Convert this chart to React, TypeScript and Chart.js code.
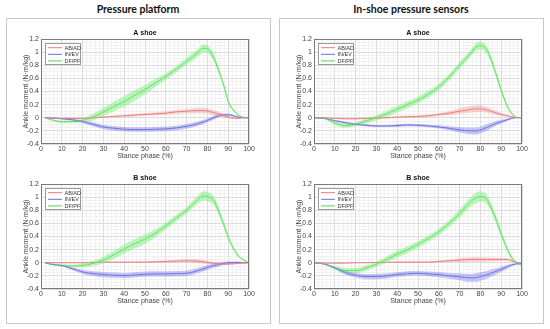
import React, { useEffect, useRef } from 'react';
import { Chart, registerables } from 'chart.js';

Chart.register(...registerables);

// ---------- Data ----------
const X_PP = [2, 5, 10, 15, 20, 25, 30, 35, 40, 45, 50, 55, 60, 65, 70, 75, 78, 80, 83, 85, 88, 90, 93, 95, 97, 100];
const X_IS = [0, 5, 10, 15, 20, 25, 30, 35, 40, 45, 50, 55, 60, 65, 70, 75, 78, 80, 83, 85, 88, 90, 93, 95, 97, 100];

const SERIES_LABELS = ['AB/AD', 'IN/EV', 'DF/PF'];
const GROUP_TITLES = ['Pressure platform', 'In-shoe pressure sensors'];
const PANEL_TITLES = ['A shoe', 'B shoe'];

// Pressure platform, A shoe
const PP_A_AB = [0, -0.005, -0.01, -0.01, -0.01, 0, 0.01, 0.02, 0.03, 0.04, 0.05, 0.06, 0.07, 0.09, 0.1, 0.11, 0.11, 0.1, 0.08, 0.06, 0.03, 0.01, -0.01, -0.01, 0, 0];
const PP_A_AB_SD = [0, 0.005, 0.01, 0.01, 0.01, 0.01, 0.01, 0.01, 0.015, 0.02, 0.02, 0.02, 0.025, 0.03, 0.03, 0.04, 0.04, 0.04, 0.04, 0.04, 0.03, 0.02, 0.01, 0.01, 0.005, 0];
const PP_A_IN = [0, -0.005, -0.015, -0.03, -0.06, -0.1, -0.14, -0.16, -0.175, -0.18, -0.18, -0.175, -0.17, -0.155, -0.13, -0.095, -0.065, -0.04, 0, 0.025, 0.045, 0.045, 0.025, 0.01, 0, 0];
const PP_A_IN_SD = [0, 0.005, 0.01, 0.015, 0.02, 0.03, 0.03, 0.035, 0.035, 0.035, 0.035, 0.035, 0.035, 0.035, 0.035, 0.035, 0.035, 0.03, 0.03, 0.025, 0.02, 0.02, 0.015, 0.01, 0.005, 0];
const PP_A_DF = [0, -0.03, -0.06, -0.06, -0.04, 0.01, 0.09, 0.17, 0.25, 0.34, 0.43, 0.53, 0.63, 0.74, 0.86, 0.98, 1.06, 1.05, 0.92, 0.76, 0.48, 0.25, 0.1, 0.04, 0.01, 0];
const PP_A_DF_SD = [0, 0.01, 0.02, 0.02, 0.03, 0.05, 0.06, 0.07, 0.08, 0.08, 0.07, 0.06, 0.05, 0.05, 0.05, 0.06, 0.06, 0.06, 0.06, 0.05, 0.04, 0.03, 0.02, 0.01, 0.01, 0];

// Pressure platform, B shoe
const PP_B_AB = [0, 0, 0, 0, 0, 0.005, 0.01, 0.01, 0.01, 0.01, 0.01, 0.015, 0.02, 0.025, 0.03, 0.025, 0.015, 0.005, -0.01, -0.015, -0.02, -0.02, -0.015, -0.01, -0.005, 0];
const PP_B_AB_SD = [0, 0.005, 0.005, 0.005, 0.005, 0.005, 0.005, 0.005, 0.005, 0.01, 0.01, 0.01, 0.015, 0.02, 0.025, 0.03, 0.03, 0.025, 0.02, 0.02, 0.015, 0.01, 0.01, 0.005, 0.005, 0];
const PP_B_IN = [0, -0.025, -0.045, -0.09, -0.14, -0.165, -0.18, -0.19, -0.195, -0.185, -0.175, -0.17, -0.17, -0.165, -0.16, -0.125, -0.095, -0.07, -0.045, -0.03, -0.01, 0, 0.005, 0.005, 0, 0];
const PP_B_IN_SD = [0, 0.005, 0.01, 0.02, 0.03, 0.035, 0.04, 0.04, 0.04, 0.04, 0.04, 0.04, 0.04, 0.04, 0.04, 0.04, 0.04, 0.035, 0.03, 0.03, 0.025, 0.02, 0.015, 0.01, 0.005, 0];
const PP_B_DF = [0, -0.02, -0.04, -0.05, -0.04, -0.01, 0.04, 0.12, 0.21, 0.29, 0.36, 0.45, 0.56, 0.68, 0.8, 0.95, 1.02, 1.01, 0.95, 0.82, 0.57, 0.39, 0.19, 0.1, 0.05, 0];
const PP_B_DF_SD = [0, 0.01, 0.02, 0.02, 0.03, 0.04, 0.05, 0.06, 0.07, 0.07, 0.07, 0.06, 0.05, 0.05, 0.05, 0.06, 0.07, 0.07, 0.07, 0.06, 0.05, 0.04, 0.03, 0.02, 0.01, 0];

// In-shoe sensors, A shoe
const IS_A_AB = [0, 0, -0.01, -0.015, -0.015, -0.01, -0.005, 0, 0.01, 0.015, 0.02, 0.03, 0.05, 0.07, 0.1, 0.125, 0.135, 0.135, 0.12, 0.1, 0.07, 0.05, 0.03, 0.015, 0.005, 0];
const IS_A_AB_SD = [0, 0, 0.005, 0.01, 0.01, 0.01, 0.01, 0.01, 0.01, 0.015, 0.015, 0.02, 0.02, 0.03, 0.04, 0.05, 0.05, 0.05, 0.04, 0.04, 0.03, 0.02, 0.015, 0.01, 0.005, 0];
const IS_A_IN = [0, -0.01, -0.045, -0.075, -0.1, -0.115, -0.125, -0.125, -0.12, -0.11, -0.115, -0.125, -0.14, -0.16, -0.185, -0.2, -0.2, -0.185, -0.15, -0.12, -0.08, -0.06, -0.03, -0.01, 0, 0];
const IS_A_IN_SD = [0, 0.005, 0.01, 0.015, 0.015, 0.015, 0.015, 0.015, 0.02, 0.02, 0.02, 0.02, 0.025, 0.03, 0.04, 0.05, 0.05, 0.05, 0.05, 0.045, 0.035, 0.03, 0.02, 0.01, 0.005, 0];
const IS_A_DF = [0, -0.01, -0.08, -0.12, -0.1, -0.05, 0, 0.06, 0.13, 0.2, 0.27, 0.36, 0.47, 0.62, 0.8, 0.97, 1.08, 1.1, 1.04, 0.9, 0.62, 0.42, 0.17, 0.07, 0.01, 0];
const IS_A_DF_SD = [0, 0.01, 0.03, 0.03, 0.03, 0.04, 0.04, 0.05, 0.05, 0.05, 0.05, 0.05, 0.05, 0.05, 0.05, 0.05, 0.06, 0.06, 0.06, 0.05, 0.05, 0.04, 0.03, 0.02, 0.01, 0];

// In-shoe sensors, B shoe
const IS_B_AB = [0, -0.005, -0.005, -0.005, 0, 0, 0.005, 0.005, 0.01, 0.01, 0.01, 0.01, 0.02, 0.03, 0.04, 0.05, 0.05, 0.05, 0.05, 0.05, 0.05, 0.05, 0.05, 0.03, 0.01, -0.02];
const IS_B_AB_SD = [0, 0.005, 0.005, 0.005, 0.005, 0.005, 0.005, 0.005, 0.01, 0.01, 0.01, 0.01, 0.015, 0.02, 0.03, 0.035, 0.035, 0.035, 0.03, 0.03, 0.025, 0.02, 0.02, 0.015, 0.01, 0.01];
const IS_B_IN = [0, -0.02, -0.075, -0.15, -0.19, -0.21, -0.21, -0.2, -0.18, -0.165, -0.16, -0.17, -0.18, -0.2, -0.215, -0.23, -0.225, -0.21, -0.185, -0.16, -0.125, -0.1, -0.06, -0.035, -0.02, 0];
const IS_B_IN_SD = [0, 0.005, 0.015, 0.03, 0.035, 0.04, 0.04, 0.04, 0.035, 0.035, 0.035, 0.035, 0.04, 0.045, 0.05, 0.06, 0.065, 0.065, 0.06, 0.055, 0.045, 0.04, 0.03, 0.02, 0.015, 0.01];
const IS_B_DF = [0, -0.02, -0.08, -0.12, -0.12, -0.08, -0.02, 0.05, 0.13, 0.2, 0.28, 0.37, 0.47, 0.6, 0.75, 0.92, 0.99, 1.01, 0.97, 0.85, 0.62, 0.44, 0.2, 0.08, 0.01, -0.04];
const IS_B_DF_SD = [0, 0.01, 0.03, 0.04, 0.04, 0.04, 0.04, 0.05, 0.05, 0.05, 0.05, 0.05, 0.05, 0.05, 0.06, 0.07, 0.08, 0.08, 0.07, 0.07, 0.06, 0.05, 0.04, 0.03, 0.02, 0.01];

// ---------- Styles ----------
const FONT = '"Liberation Sans", Arial, Helvetica, sans-serif';
const LINE_COLORS = ['#e87c7c', '#6c6cdc', '#55d455'];
const BAND_COLORS = ['rgba(242,140,140,0.38)', 'rgba(120,120,238,0.42)', 'rgba(120,238,120,0.48)'];

const CW = 251;
const CH = 141;

const fmtTick = (v: any) => String(Math.round(Number(v) * 10) / 10);

const decoPlugin = {
  id: 'deco',
  afterDatasetsDraw(chart: any, _args: any, opts: any) {
    const { ctx, chartArea: a } = chart;
    ctx.save();
    // axes box
    ctx.strokeStyle = '#7a7a7a';
    ctx.lineWidth = 1;
    ctx.strokeRect(Math.round(a.left) + 0.5, Math.round(a.top) + 0.5, Math.round(a.right - a.left) - 1, Math.round(a.bottom - a.top) - 1);
    // panel title
    ctx.fillStyle = '#111';
    ctx.font = `bold 7px ${FONT}`;
    ctx.textAlign = 'center';
    ctx.textBaseline = 'middle';
    ctx.fillText(opts.title || '', (a.left + a.right) / 2, a.top - 5.5);
    // legend
    const bx = Math.round(a.left + 4) + 0.5;
    const by = Math.round(a.top + 4) + 0.5;
    const bw = 35;
    const bh = 21;
    ctx.fillStyle = '#ffffff';
    ctx.fillRect(bx, by, bw, bh);
    ctx.strokeStyle = '#9a9a9a';
    ctx.strokeRect(bx, by, bw, bh);
    const means = chart.data.datasets.filter((d: any) => d.isMean);
    means.forEach((d: any, i: number) => {
      const ry = by + 4.2 + i * 6.6;
      ctx.strokeStyle = d.borderColor;
      ctx.lineWidth = 1;
      ctx.beginPath();
      ctx.moveTo(bx + 2.5, ry);
      ctx.lineTo(bx + 16.5, ry);
      ctx.stroke();
      ctx.fillStyle = '#333';
      ctx.font = `5.5px ${FONT}`;
      ctx.textAlign = 'left';
      ctx.textBaseline = 'middle';
      ctx.fillText(d.label, bx + 19, ry + 0.3);
    });
    ctx.restore();
  },
};

type PanelProps = {
  left: number;
  top: number;
  title: string;
  xs: number[];
  means: number[][];
  sds: number[][];
};

function Panel({ left, top, title, xs, means, sds }: PanelProps) {
  const ref = useRef<HTMLCanvasElement>(null);
  useEffect(() => {
    if (!ref.current) return;
    const datasets: any[] = [];
    means.forEach((m, i) => {
      const sd = sds[i];
      datasets.push({
        data: xs.map((x, j) => ({ x, y: m[j] + sd[j] })),
        borderWidth: 0,
        pointRadius: 0,
        fill: false,
        cubicInterpolationMode: 'monotone',
        xAxisID: 'x',
        yAxisID: 'y',
      });
      datasets.push({
        data: xs.map((x, j) => ({ x, y: m[j] - sd[j] })),
        borderWidth: 0,
        pointRadius: 0,
        fill: '-1',
        backgroundColor: BAND_COLORS[i],
        cubicInterpolationMode: 'monotone',
        xAxisID: 'x',
        yAxisID: 'y',
      });
    });
    means.forEach((m, i) => {
      datasets.push({
        label: SERIES_LABELS[i],
        isMean: true,
        data: xs.map((x, j) => ({ x, y: m[j] })),
        borderColor: LINE_COLORS[i],
        borderWidth: 1,
        pointRadius: 0,
        fill: false,
        cubicInterpolationMode: 'monotone',
        xAxisID: 'x',
        yAxisID: 'y',
      });
    });

    const chart = new Chart(ref.current, {
      type: 'line',
      data: { datasets },
      plugins: [decoPlugin],
      options: {
        animation: false,
        responsive: false,
        events: [],
        layout: { padding: { top: 14, right: 10, left: 0, bottom: 0 } },
        plugins: {
          legend: { display: false },
          tooltip: { enabled: false },
          title: { display: false },
          deco: { title },
        } as any,
        scales: {
          xm: {
            type: 'linear', min: 0, max: 100, position: 'bottom', z: -1,
            ticks: { display: false, stepSize: 2 },
            grid: { color: '#f1f1f1', drawTicks: false, lineWidth: 1 },
            border: { display: false },
            afterFit: (s: any) => { s.height = 0; },
          },
          ym: {
            type: 'linear', min: -0.4, max: 1.2, position: 'left', z: -1,
            ticks: { display: false, stepSize: 0.05 },
            grid: { color: '#f1f1f1', drawTicks: false, lineWidth: 1 },
            border: { display: false },
            afterFit: (s: any) => { s.width = 0; },
          },
          x: {
            type: 'linear', min: 0, max: 100, position: 'bottom',
            ticks: { stepSize: 10, padding: 1, color: '#444', font: { size: 7, family: FONT }, maxRotation: 0, autoSkip: false, callback: fmtTick },
            grid: { color: '#dcdcdc', drawTicks: false },
            border: { display: false },
            title: { display: true, text: 'Stance phase (%)', color: '#444', font: { size: 7, family: FONT }, padding: { top: 0, bottom: 6 } },
            afterFit: (s: any) => { s.height = 22; },
          },
          y: {
            type: 'linear', min: -0.4, max: 1.2, position: 'left',
            ticks: { stepSize: 0.2, padding: 2, color: '#444', font: { size: 7, family: FONT }, callback: fmtTick },
            grid: { color: '#dcdcdc', drawTicks: false },
            border: { display: false },
            title: { display: true, text: 'Ankle moment (N·m/kg)', color: '#444', font: { size: 7, family: FONT }, padding: { top: 13.5, bottom: 0 } },
            afterFit: (s: any) => { s.width = 33; },
          },
        } as any,
      },
    } as any);
    return () => chart.destroy();
  }, []);
  return (
    <canvas
      ref={ref}
      width={CW}
      height={CH}
      style={{ position: 'absolute', left, top, width: CW, height: CH }}
    />
  );
}

const boxStyle = (left: number): React.CSSProperties => ({
  position: 'absolute',
  left,
  top: 18,
  width: 263,
  height: 304,
  border: '1px solid #c9c9c9',
  boxSizing: 'content-box',
});

const headStyle = (left: number): React.CSSProperties => ({
  position: 'absolute',
  left,
  top: 0,
  width: 264,
  height: 18,
  lineHeight: '18px',
  textAlign: 'center',
  fontFamily: 'Lato, "Open Sans", sans-serif',
  fontWeight: 700,
  fontSize: '10.5px',
  color: '#111',
  whiteSpace: 'nowrap',
});

export default function App() {
  return (
    <div style={{ position: 'absolute', left: 0, top: 0, width: 550, height: 329, background: '#fff', overflow: 'hidden' }}>
      <div style={boxStyle(6)} />
      <div style={boxStyle(279)} />
      <div style={headStyle(6)}>{GROUP_TITLES[0]}</div>
      <div style={headStyle(279)}>{GROUP_TITLES[1]}</div>
      <Panel left={8} top={25} title={PANEL_TITLES[0]} xs={X_PP}
        means={[PP_A_AB, PP_A_IN, PP_A_DF]} sds={[PP_A_AB_SD, PP_A_IN_SD, PP_A_DF_SD]} />
      <Panel left={8} top={170} title={PANEL_TITLES[1]} xs={X_PP}
        means={[PP_B_AB, PP_B_IN, PP_B_DF]} sds={[PP_B_AB_SD, PP_B_IN_SD, PP_B_DF_SD]} />
      <Panel left={281} top={25} title={PANEL_TITLES[0]} xs={X_IS}
        means={[IS_A_AB, IS_A_IN, IS_A_DF]} sds={[IS_A_AB_SD, IS_A_IN_SD, IS_A_DF_SD]} />
      <Panel left={281} top={170} title={PANEL_TITLES[1]} xs={X_IS}
        means={[IS_B_AB, IS_B_IN, IS_B_DF]} sds={[IS_B_AB_SD, IS_B_IN_SD, IS_B_DF_SD]} />
    </div>
  );
}
